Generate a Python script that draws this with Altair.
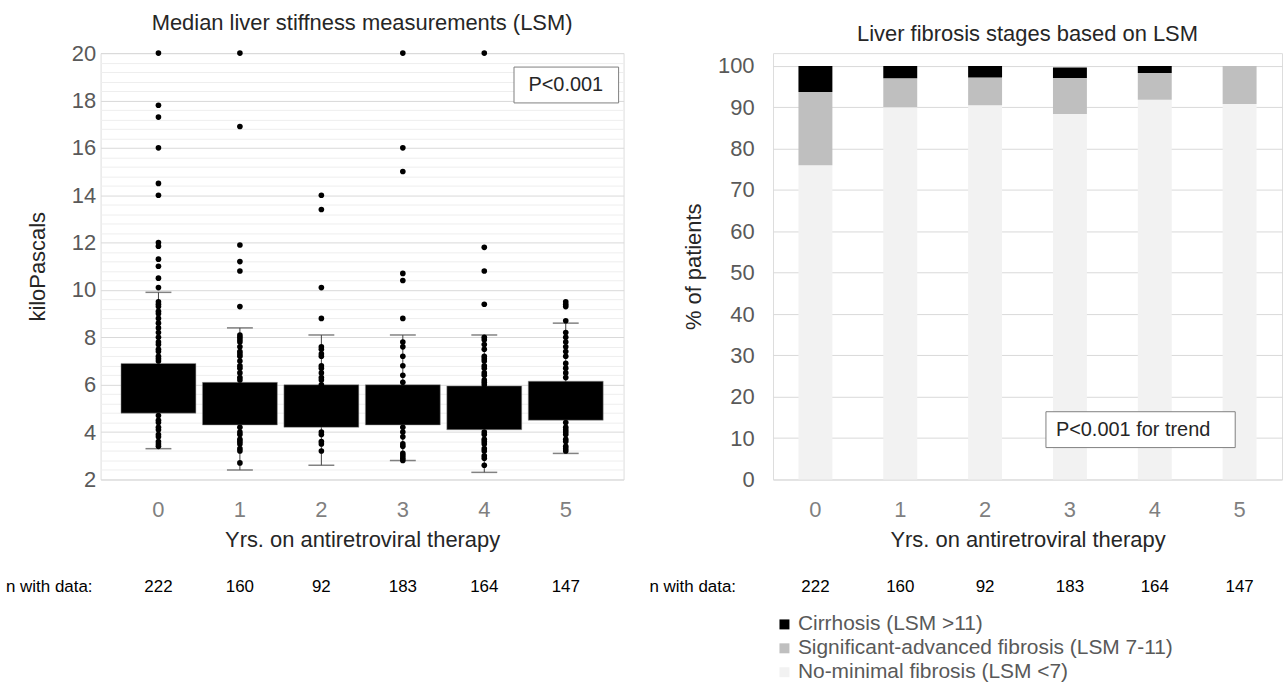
import altair as alt
import pandas as pd

FONT = "Liberation Sans"

# ---------------- data ----------------
years = ["0", "1", "2", "3", "4", "5"]
n_with_data = [222, 160, 92, 183, 164, 147]

# box plot summary (kPa)
q1 = [4.8, 4.3, 4.2, 4.3, 4.1, 4.5]
q3 = [6.9, 6.1, 6.0, 6.0, 5.95, 6.15]
whisk_lo = [3.3, 2.4, 2.6, 2.8, 2.3, 3.1]
whisk_hi = [9.9, 8.4, 8.1, 8.1, 8.1, 8.6]

# individual LSM points visible outside the boxes
pts_y0 = [20.0, 17.8, 17.3, 16.0, 14.5, 14.0, 12.0, 11.85, 11.3, 11.0, 10.5, 10.1,
          9.5, 9.4, 9.3, 9.1, 9.0, 8.8, 8.6, 8.4, 8.2, 8.0, 7.8, 7.7, 7.5, 7.4, 7.2, 7.1, 7.0,
          4.7, 4.5, 4.4, 4.2, 4.1, 3.9, 3.8, 3.6, 3.5, 3.4]
pts_y1 = [20.0, 16.9, 11.9, 11.2, 10.8, 9.3,
          8.1, 8.0, 7.9, 7.8, 7.6, 7.4, 7.3, 7.2, 7.0, 6.8, 6.7, 6.5, 6.3, 6.2,
          4.2, 4.0, 3.9, 3.7, 3.6, 3.5, 3.3, 3.2, 2.7]
pts_y2 = [14.0, 13.4, 10.1, 8.8,
          7.6, 7.5, 7.3, 7.2, 6.8, 6.7, 6.5, 6.3, 6.2, 6.0,
          4.0, 3.9, 3.6, 3.5, 3.2]
pts_y3 = [20.0, 16.0, 15.0, 10.7, 10.4, 8.8,
          7.8, 7.6, 7.2, 6.8, 6.4, 6.1,
          4.2, 4.0, 3.8, 3.5, 3.4, 3.1, 3.0, 2.9, 2.8]
pts_y4 = [20.0, 11.8, 10.8, 9.4,
          8.0, 7.9, 7.7, 7.5, 7.2, 7.1, 7.0, 6.8, 6.7, 6.5, 6.4, 6.2, 6.1, 6.0,
          4.0, 3.9, 3.7, 3.6, 3.5, 3.3, 3.2, 3.0, 2.9, 2.6]
pts_y5 = [9.5, 9.4, 9.3, 8.7,
          8.2, 8.0, 7.8, 7.6, 7.4, 7.2, 6.9, 6.7, 6.5, 6.3,
          4.4, 4.2, 4.1, 4.0, 3.9, 3.7, 3.6, 3.4, 3.3, 3.2]
points_by_year = [pts_y0, pts_y1, pts_y2, pts_y3, pts_y4, pts_y5]

# fibrosis stages (% of patients)
stages = ["Cirrhosis (LSM >11)",
          "Significant-advanced fibrosis (LSM 7-11)",
          "No-minimal fibrosis (LSM <7)"]
stage_colors = ["#000000", "#bfbfbf", "#f2f2f2"]
pct_cirrhosis = [6.3, 3.0, 2.8, 2.5, 1.7, 0.0]
pct_significant = [17.7, 7.0, 6.7, 8.7, 6.5, 9.2]
pct_nominimal = [76.0, 90.0, 90.5, 88.4, 91.8, 90.8]

# ---------------- tables ----------------
box_df = pd.DataFrame({"yr": years, "q1": q1, "q3": q3, "lo": whisk_lo, "hi": whisk_hi})
cap_df = pd.DataFrame({"yr": years * 2, "v": whisk_lo + whisk_hi})
pts_df = pd.DataFrame([{"yr": y, "v": v} for y, vals in zip(years, points_by_year) for v in vals])
n_df = pd.DataFrame({"yr": years, "n": [str(n) for n in n_with_data]})
one_df = pd.DataFrame({"k": [0]})

stack_rows = []
for i, y in enumerate(years):
    stack_rows.append({"yr": y, "stage": stages[2], "pct": pct_nominimal[i], "ord": 0})
    stack_rows.append({"yr": y, "stage": stages[1], "pct": pct_significant[i], "ord": 1})
    stack_rows.append({"yr": y, "stage": stages[0], "pct": pct_cirrhosis[i], "ord": 2})
stack_df = pd.DataFrame(stack_rows)

# ---------------- shared styles ----------------
LAB = 22      # tick label size
TIT = 22      # axis title size
NTXT = 17     # n-with-data size
N_Y = 536

def x_axis():
    return alt.Axis(title="Yrs. on antiretroviral therapy", labelAngle=0,
                    labelFontSize=LAB, labelColor="#7f7f7f", labelFont=FONT,
                    titleFont=FONT, titleFontSize=TIT, titleColor="#262626",
                    titleFontWeight="normal",
                    ticks=False, tickSize=0, domain=False, labelPadding=20,
                    titlePadding=9)

# ---------------- left panel ----------------
LW, H = 525, 428
minor_vals = [round(2 + 0.4 * i, 1) for i in range(46)]

x_left = alt.X("yr:N", sort=years,
               scale=alt.Scale(paddingInner=0.08, paddingOuter=0.25),
               axis=x_axis())
y_scale_left = alt.Scale(domain=[2, 20], nice=False, zero=False)
y_axis_left = alt.Axis(title="kiloPascals", values=minor_vals,
                       labelExpr="datum.value % 2 === 0 ? format(datum.value, 'd') : ''",
                       labelOverlap=False, labelFontSize=LAB, labelColor="#595959",
                       labelFont=FONT, titleFont=FONT, titleFontSize=TIT,
                       titleColor="#262626", titleFontWeight="normal",
                       ticks=False, tickSize=0, domain=False, labelPadding=5,
                       titlePadding=22,
                       gridColor=alt.condition("datum.value % 2 === 0",
                                               alt.value("#d9d9d9"), alt.value("#eeeeee")),
                       gridWidth=1)

whisk = alt.Chart(box_df).mark_rule(color="#404040", strokeWidth=1).encode(
    x=x_left,
    y=alt.Y("lo:Q", scale=y_scale_left, axis=y_axis_left),
    y2="hi:Q")
boxes = alt.Chart(box_df).mark_bar(color="#000000", stroke="#9a9a9a", strokeWidth=0.5).encode(
    x=x_left,
    y=alt.Y("q1:Q", scale=y_scale_left, axis=y_axis_left),
    y2="q3:Q")
caps = alt.Chart(cap_df).mark_tick(color="#4d4d4d", size=26, thickness=1.5).encode(
    x=x_left,
    y=alt.Y("v:Q", scale=y_scale_left, axis=y_axis_left))
dots = alt.Chart(pts_df).mark_circle(color="#000000", size=32, opacity=1).encode(
    x=x_left,
    y=alt.Y("v:Q", scale=y_scale_left, axis=y_axis_left))
n_left = alt.Chart(n_df).mark_text(fontSize=NTXT, font=FONT, color="#000000",
                                   baseline="middle").encode(
    x=x_left, y=alt.value(N_Y), text="n:N")
n_lab_left = alt.Chart(one_df).mark_text(fontSize=NTXT, font=FONT, color="#000000",
                                         align="left", baseline="middle").encode(
    x=alt.value(-95), y=alt.value(N_Y), text=alt.value("n with data:"))
pbox_left = alt.Chart(one_df).mark_rect(fill="#ffffff", stroke="#7f7f7f",
                                        strokeWidth=1).encode(
    x=alt.value(415), x2=alt.value(520), y=alt.value(14), y2=alt.value(50))
ptext_left = alt.Chart(one_df).mark_text(fontSize=20, font=FONT, color="#262626",
                                         align="center", baseline="middle").encode(
    x=alt.value(467), y=alt.value(32), text=alt.value("P<0.001"))

left = alt.layer(whisk, boxes, caps, dots, n_left, n_lab_left, pbox_left, ptext_left).properties(
    width=LW, height=H,
    title=alt.TitleParams("Median liver stiffness measurements (LSM)", fontSize=22,
                          font=FONT, fontWeight="normal", color="#262626", offset=7))

# ---------------- right panel ----------------
RW = 511
x_right = alt.X("yr:N", sort=years,
                scale=alt.Scale(paddingInner=0.6, paddingOuter=0.3),
                axis=x_axis())
y_scale_right = alt.Scale(domain=[0, 103.1], nice=False)
y_axis_right = alt.Axis(title="% of patients", values=list(range(0, 101, 10)),
                        labelFontSize=LAB, labelColor="#595959", labelFont=FONT,
                        titleFont=FONT, titleFontSize=TIT, titleColor="#262626",
                        titleFontWeight="normal", ticks=False, tickSize=0, domain=False,
                        labelPadding=19, titlePadding=12, gridColor="#d9d9d9",
                        labelOverlap=False)

bars = alt.Chart(stack_df).mark_bar().encode(
    x=x_right,
    y=alt.Y("pct:Q", stack="zero", scale=y_scale_right, axis=y_axis_right),
    color=alt.Color("stage:N",
                    scale=alt.Scale(domain=stages, range=stage_colors),
                    legend=alt.Legend(orient="none", legendX=1, legendY=563, title=None,
                                      symbolType="square", symbolSize=100,
                                      symbolStrokeWidth=0, labelFontSize=21,
                                      labelFont=FONT, labelColor="#595959",
                                      rowPadding=2, labelOffset=3, labelLimit=600,
                                      padding=0)),
    order=alt.Order("ord:Q", sort="ascending"))
n_right = alt.Chart(n_df).mark_text(fontSize=NTXT, font=FONT, color="#000000",
                                    baseline="middle").encode(
    x=x_right, y=alt.value(N_Y), text="n:N")
n_lab_right = alt.Chart(one_df).mark_text(fontSize=NTXT, font=FONT, color="#000000",
                                          align="left", baseline="middle").encode(
    x=alt.value(-124), y=alt.value(N_Y), text=alt.value("n with data:"))
pbox_right = alt.Chart(one_df).mark_rect(fill="#ffffff", stroke="#7f7f7f",
                                         strokeWidth=1).encode(
    x=alt.value(274), x2=alt.value(464), y=alt.value(360), y2=alt.value(396))
ptext_right = alt.Chart(one_df).mark_text(fontSize=20, font=FONT, color="#262626",
                                          align="left", baseline="middle").encode(
    x=alt.value(284), y=alt.value(378), text=alt.value("P<0.001 for trend"))

right = alt.layer(bars, n_right, n_lab_right, pbox_right, ptext_right).properties(
    width=RW, height=H,
    title=alt.TitleParams("Liver fibrosis stages based on LSM", fontSize=22,
                          font=FONT, fontWeight="normal", color="#262626", offset=7))

chart = alt.hconcat(left, right, spacing=24).resolve_scale(
    x="independent", y="independent", color="independent"
).resolve_legend(color="independent").configure_view(stroke=None).configure(
    background="#ffffff",
    padding={"left": 5, "top": 10, "right": 5, "bottom": 0})

chart.save("out.html", embed_options={"renderer": "svg", "actions": False})
